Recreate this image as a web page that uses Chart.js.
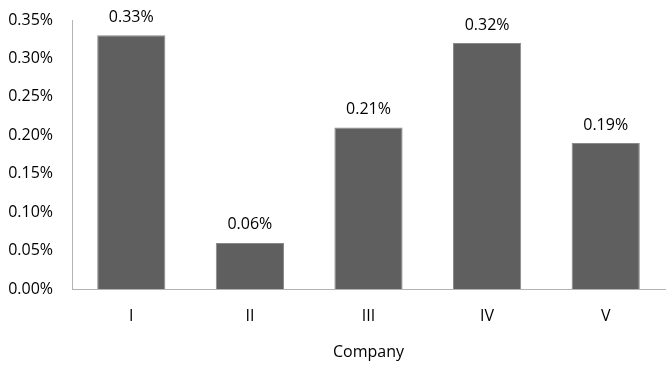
<!DOCTYPE html>
<html>
<head>
<meta charset="utf-8">
<script src="https://cdn.jsdelivr.net/npm/chart.js@4/dist/chart.umd.min.js"></script>
<style>
  html, body { margin: 0; padding: 0; background: #fff; }
  #wrap { width: 666px; height: 366px; }
</style>
</head>
<body>
<div id="wrap"><canvas id="chart" width="666" height="366"></canvas></div>
<script>
const companies = ['I', 'II', 'III', 'IV', 'V']
const shares = [0.33, 0.06, 0.21, 0.32, 0.19]
const yTicks = [0, 0.05, 0.10, 0.15, 0.20, 0.25, 0.30, 0.35]

const fontFamily = '"Open Sans", sans-serif'
const fontSize = 16

// draws the value above each bar
const valueLabels = {
  id: 'valueLabels',
  afterDatasetsDraw (chart) {
    const { ctx } = chart
    const meta = chart.getDatasetMeta(0)
    ctx.save()
    ctx.font = `${fontSize}px ${fontFamily}`
    ctx.fillStyle = '#000'
    ctx.textAlign = 'center'
    ctx.textBaseline = 'middle'
    meta.data.forEach((bar, i) => {
      ctx.fillText(shares[i].toFixed(2) + '%', bar.x, bar.y - 18)
    })
    ctx.restore()
  }
}

const drawChart = () => {
  new Chart(document.getElementById('chart').getContext('2d'), {
    type: 'bar',
    data: {
      labels: companies,
      datasets: [{
        data: shares,
        backgroundColor: '#5f5f5f',
        borderColor: '#8a8a8a',
        borderWidth: 1,
        categoryPercentage: 1,
        barPercentage: 0.575
      }]
    },
    options: {
      responsive: false,
      animation: false,
      layout: { padding: { top: 0, right: 1, left: 2, bottom: 4 } },
      plugins: {
        legend: { display: false },
        tooltip: { enabled: false }
      },
      scales: {
        x: {
          grid: { display: false, drawTicks: false },
          border: { color: '#b3b3b3', width: 1 },
          ticks: { color: '#000', font: { family: fontFamily, size: fontSize }, padding: 18 },
          title: { display: true, text: 'Company', color: '#000', font: { family: fontFamily, size: fontSize }, padding: { top: 16, bottom: 0 } },
          afterFit: axis => { axis.height = 73 }
        },
        y: {
          min: 0,
          max: 0.35,
          afterBuildTicks: axis => { axis.ticks = yTicks.map(v => ({ value: v })) },
          afterFit: axis => {
            axis.width = 70
            axis.paddingTop = 20
          },
          grid: { display: false, drawTicks: false },
          border: { color: '#b3b3b3', width: 1 },
          ticks: {
            color: '#000',
            font: { family: fontFamily, size: fontSize },
            padding: 19,
            callback: v => v.toFixed(2) + '%'
          }
        }
      }
    },
    plugins: [valueLabels]
  })
}

document.fonts.load(`${fontSize}px "Open Sans"`).then(drawChart, drawChart)
</script>
</body>
</html>
